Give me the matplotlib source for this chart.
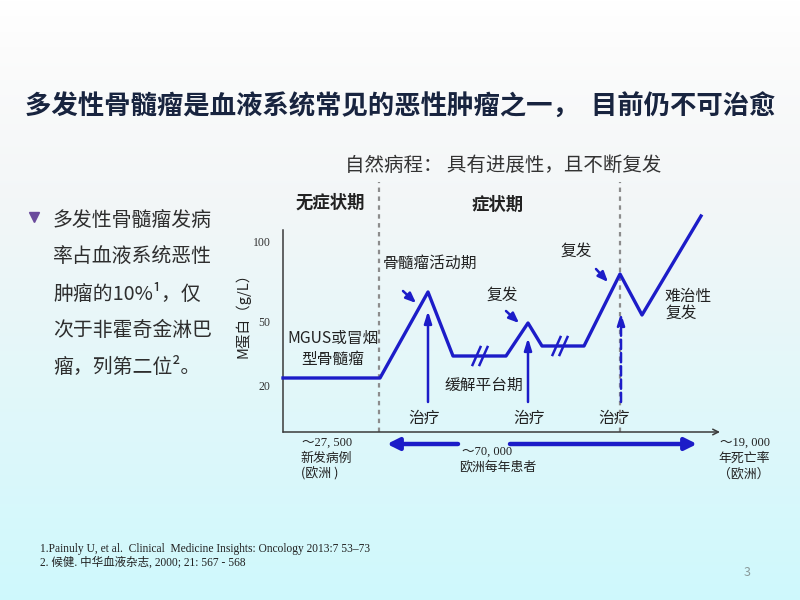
import numpy as np
import matplotlib.pyplot as plt

plt.rcParams['font.family'] = ['Noto Sans CJK SC', 'DejaVu Sans']
SERIF = ['Liberation Serif', 'Noto Sans CJK SC']

# schematic course of M protein (time units along x axis, level above x axis)
course_t = [0, 97, 145, 170, 223, 245, 259, 301, 337, 359, 418]
course_m = [54, 54, 140, 76, 76, 109, 86, 86, 158, 117, 216]

ytick_pos = [47, 111, 191]
ytick_labels = ['20', '50', '100']

phase_bounds = [96, 337]           # 无症状期 | 症状期 | ...
treat_t = [145, 245, 338]          # 治疗 arrows
treat_tip = [121, 94, 119]
break_t = [197, 277]               # "//" breaks on the plateaus
break_m = [76, 86]

# small pointer arrows (start, end) toward the peaks
pointer_from = [(120, 141), (223, 121), (313, 163)]
pointer_to = [(133, 129), (236, 109), (325, 150)]

BLUE = '#1C1CC8'
GREY = '#3A3A3A'

fig = plt.figure(figsize=(8, 6), dpi=100)

# full-slide layer: background gradient + all slide text
ax = fig.add_axes([0, 0, 1, 1])
ax.set_xlim(0, 800)
ax.set_ylim(600, 0)
ax.axis('off')
stops = [0.0, 0.1, 0.35, 1.0]
cols = np.array([[1, 1, 1], [0.985, 0.985, 0.985], [0.95, 0.965, 0.97], [0.81, 0.975, 0.99]])
yy = np.linspace(0, 1, 600)
grad = np.stack([np.interp(yy, stops, cols[:, i]) for i in range(3)], axis=-1)
grad = np.repeat(grad[:, None, :], 2, axis=1)
ax.imshow(grad, extent=[0, 800, 600, 0], aspect='auto', zorder=0)

ax.text(400, 107, '多发性骨髓瘤是血液系统常见的恶性肿瘤之一，  目前仍不可治愈',
        ha='center', va='center', fontsize=19, fontweight='bold', color='#18243F')
ax.text(503, 165, '自然病程： 具有进展性，且不断复发', ha='center', va='center',
        fontsize=14, color='#333333')
ax.text(330, 203, '无症状期', ha='center', va='center', fontsize=12.5,
        fontweight='bold', color='#222222')
ax.text(498, 205, '症状期', ha='center', va='center', fontsize=12.5,
        fontweight='bold', color='#222222')

# left bullet
ax.plot([34], [217], marker='v', markersize=7, color='#6A4A9C', zorder=3)
bullet_lines = ['多发性骨髓瘤发病', '率占血液系统恶性', '肿瘤的10%¹，仅',
                '次于非霍奇金淋巴', '瘤，列第二位²。']
for i, line in enumerate(bullet_lines):
    ax.text(53, 221 + 36.5 * i, line, ha='left', va='center', fontsize=14.3,
            color='#2E2E2E')

# chart annotations
ax.text(243, 312, 'M蛋白（g/L）', rotation=90, ha='center', va='center',
        fontsize=10.5, color='#222222')
ax.text(333, 338, 'MGUS或冒烟', ha='center', va='center', fontsize=11.3, color='#222222')
ax.text(333, 359, '型骨髓瘤', ha='center', va='center', fontsize=11.3, color='#222222')
ax.text(430, 263, '骨髓瘤活动期', ha='center', va='center', fontsize=11.3, color='#222222')
ax.text(502, 295, '复发', ha='center', va='center', fontsize=11.3, color='#222222')
ax.text(576, 251, '复发', ha='center', va='center', fontsize=11.3, color='#222222')
ax.text(665, 296, '难治性', ha='left', va='center', fontsize=11.3, color='#222222')
ax.text(665, 313, '复发', ha='left', va='center', fontsize=11.3, color='#222222')
ax.text(484, 385, '缓解平台期', ha='center', va='center', fontsize=11.3, color='#222222')
for xc in [424, 529, 614]:
    ax.text(xc, 418, '治疗', ha='center', va='center', fontsize=11.3, color='#222222')

ax.text(327, 443, '～27, 500', ha='center', va='center', fontsize=9, family=SERIF, color='#222222')
ax.text(326, 458, '新发病例', ha='center', va='center', fontsize=9.3, color='#222222')
ax.text(320, 474, '(欧洲 )', ha='center', va='center', fontsize=9.3, color='#222222')
ax.text(487, 452, '～70, 000', ha='center', va='center', fontsize=9, family=SERIF, color='#222222')
ax.text(498, 467, '欧洲每年患者', ha='center', va='center', fontsize=9.3, color='#222222')
ax.text(745, 443, '～19, 000', ha='center', va='center', fontsize=9, family=SERIF, color='#222222')
ax.text(744, 458, '年死亡率', ha='center', va='center', fontsize=9.3, color='#222222')
ax.text(744, 474, '（欧洲）', ha='center', va='center', fontsize=9.3, color='#222222')

ax.text(40, 549, '1.Painuly U, et al.  Clinical  Medicine Insights: Oncology 2013:7 53\u201373',
        ha='left', va='center', fontsize=8.3, family=SERIF, color='#222222')
ax.text(40, 563, '2. 候健. 中华血液杂志, 2000; 21: 567 - 568',
        ha='left', va='center', fontsize=8.3, family=SERIF, color='#222222')
ax.text(747, 572, '3', ha='center', va='center', fontsize=9, color='#8A9A9A')

# chart layer
cx = fig.add_axes([283 / 800, 1 - 432 / 600, 435 / 800, 202 / 600])
cx.set_xlim(0, 435)
cx.set_ylim(0, 202)
cx.patch.set_visible(False)
for s in ['top', 'right', 'bottom']:
    cx.spines[s].set_visible(False)
cx.spines['left'].set_color(GREY)
cx.spines['left'].set_linewidth(1.1)
cx.set_xticks([])
cx.set_yticks(ytick_pos, ytick_labels)
cx.tick_params(axis='y', length=0, pad=9, labelsize=8.5, labelcolor='#333333')
for lab in cx.get_yticklabels():
    lab.set_family(SERIF)

cx.annotate('', xy=(437, 0), xytext=(0, 0), annotation_clip=False,
            arrowprops=dict(arrowstyle='->', color=GREY, lw=1.1, shrinkA=0, shrinkB=0))

cx.vlines(phase_bounds, 0, 250, colors='#8C8C8C', linestyles=(0, (2, 2)),
          lw=1.6, clip_on=False)

cx.plot(course_t, course_m, color=BLUE, lw=2.4, clip_on=False, zorder=4)

for bt, bm in zip(break_t, break_m):
    for dx in (-3.5, 3.5):
        cx.plot([bt + dx - 4, bt + dx + 4], [bm - 9, bm + 9], color=BLUE, lw=1.8,
                clip_on=False, zorder=5)

for i, (t, tip) in enumerate(zip(treat_t, treat_tip)):
    cx.annotate('', xy=(t, tip), xytext=(t, 30), annotation_clip=False,
                arrowprops=dict(arrowstyle='-|>,head_length=0.7,head_width=0.22',
                                color=BLUE, lw=1.8, shrinkA=0, shrinkB=0,
                                linestyle='--' if i == 2 else '-'))

for p0, p1 in zip(pointer_from, pointer_to):
    cx.annotate('', xy=p1, xytext=p0, annotation_clip=False,
                arrowprops=dict(arrowstyle='-|>,head_length=0.6,head_width=0.25',
                                color=BLUE, lw=1.8, shrinkA=0, shrinkB=0))

# patient span arrows below the axis
cx.annotate('', xy=(104, -12), xytext=(175, -12), annotation_clip=False,
            arrowprops=dict(arrowstyle='-|>,head_length=0.7,head_width=0.35',
                            color=BLUE, lw=3.2, shrinkA=0, shrinkB=0))
cx.annotate('', xy=(414, -12), xytext=(227, -12), annotation_clip=False,
            arrowprops=dict(arrowstyle='-|>,head_length=0.7,head_width=0.35',
                            color=BLUE, lw=3.2, shrinkA=0, shrinkB=0))

fig.savefig('out.png', dpi=100)
